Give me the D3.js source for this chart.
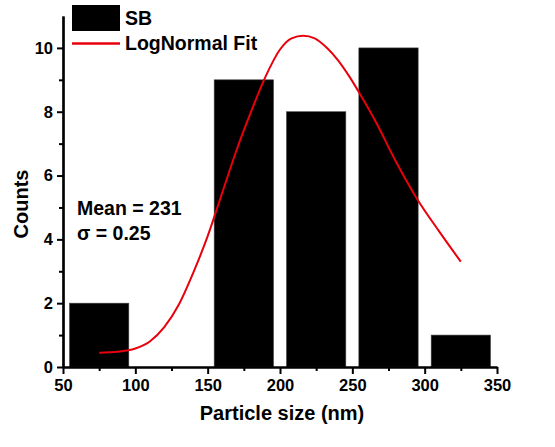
<!DOCTYPE html>
<html>
<head>
<meta charset="utf-8">
<script src="https://cdn.jsdelivr.net/npm/d3@7"></script>
<style>
  body { margin: 0; background: #fff; }
  text { font-family: Arial, "Liberation Sans", sans-serif; font-weight: bold; fill: #000; }
</style>
</head>
<body>
<script>
// histogram bins (centre, nm) and counts
var binCentres = [75, 125, 175, 225, 275, 325];
var counts = [2, 0, 9, 8, 10, 1];

// lognormal fit curve
var fitX = [75, 88, 100, 110, 120, 130, 140, 150, 160, 170, 180, 190, 200, 208, 216, 224, 232, 240, 248, 256, 266, 280, 295, 310, 325];
var fitY = [0.45, 0.48, 0.58, 0.8, 1.25, 1.95, 2.95, 4.1, 5.45, 6.8, 8.0, 9.1, 9.95, 10.3, 10.38, 10.3, 10.02, 9.62, 9.1, 8.5, 7.7, 6.45, 5.25, 4.25, 3.3];

var xTicks = [50, 100, 150, 200, 250, 300, 350];
var xMinor = [75, 125, 175, 225, 275, 325];
var yTicks = [0, 2, 4, 6, 8, 10];
var yMinor = [1, 3, 5, 7, 9];

var W = 555, H = 447;
var svg = d3.select("body").append("svg")
    .attr("width", W)
    .attr("height", H);

var x = d3.scaleLinear().domain([50, 350]).range([63, 497]);
var y = d3.scaleLinear().domain([0, 11]).range([367, 16]);

var barHalf = 20.5;

// bars
svg.selectAll("rect.bar")
   .data(counts)
   .enter().append("rect")
   .attr("class", "bar")
   .attr("x", function(d, i) { return x(binCentres[i] - barHalf); })
   .attr("width", function(d, i) { return x(binCentres[i] + barHalf) - x(binCentres[i] - barHalf); })
   .attr("y", function(d) { return y(d); })
   .attr("height", function(d) { return y(0) - y(d); })
   .style("fill", "#000")
   .style("stroke", "#444")
   .style("stroke-width", 0.6);

// fit line
var fitData = fitX.map(function(v, i) { return [v, fitY[i]]; });
var line = d3.line()
    .x(function(d) { return x(d[0]); })
    .y(function(d) { return y(d[1]); })
    .curve(d3.curveMonotoneX);

svg.append("path")
   .datum(fitData)
   .attr("d", line)
   .style("fill", "none")
   .style("stroke", "#e8000b")
   .style("stroke-width", 2);

// axes
svg.append("g")
   .attr("transform", "translate(0," + y(0) + ")")
   .call(d3.axisBottom(x).tickValues(xTicks).tickSize(7).tickSizeOuter(0).tickPadding(5));
svg.append("g")
   .attr("transform", "translate(0," + y(0) + ")")
   .call(d3.axisBottom(x).tickValues(xMinor).tickSize(4).tickFormat("").tickSizeOuter(0));

svg.append("g")
   .attr("transform", "translate(" + x(50) + ",0)")
   .call(d3.axisLeft(y).tickValues(yTicks).tickSize(6).tickSizeOuter(0).tickPadding(4));
svg.append("g")
   .attr("transform", "translate(" + x(50) + ",0)")
   .call(d3.axisLeft(y).tickValues(yMinor).tickSize(4).tickFormat("").tickSizeOuter(0));

svg.selectAll(".domain").style("stroke", "#000").style("stroke-width", 2.2);
svg.selectAll(".tick line").style("stroke", "#000").style("stroke-width", 2);
svg.selectAll(".tick text")
   .style("font-family", "Arial, 'Liberation Sans', sans-serif")
   .style("font-weight", "bold")
   .style("font-size", "16.5px")
   .style("fill", "#000");

// axis titles
svg.append("text")
   .attr("x", 282)
   .attr("y", 420)
   .attr("text-anchor", "middle")
   .style("font-size", "20px")
   .text("Particle size (nm)");

svg.append("text")
   .attr("transform", "translate(28,204) rotate(-90)")
   .attr("text-anchor", "middle")
   .style("font-size", "20px")
   .text("Counts");

// annotation
svg.append("text").attr("x", 77).attr("y", 215).style("font-size", "19.5px").text("Mean = 231");
svg.append("text").attr("x", 77).attr("y", 240).style("font-size", "19.5px").text("\u03c3 = 0.25");

// legend
svg.append("rect")
   .attr("x", 72).attr("y", 5)
   .attr("width", 48).attr("height", 26)
   .style("fill", "#000");
svg.append("line")
   .attr("x1", 72).attr("x2", 120)
   .attr("y1", 43.5).attr("y2", 43.5)
   .style("stroke", "#e8000b").style("stroke-width", 2.5);
svg.append("text").attr("x", 125).attr("y", 25).style("font-size", "19.5px").text("SB");
svg.append("text").attr("x", 125).attr("y", 50).style("font-size", "19.5px").text("LogNormal Fit");
</script>
</body>
</html>
